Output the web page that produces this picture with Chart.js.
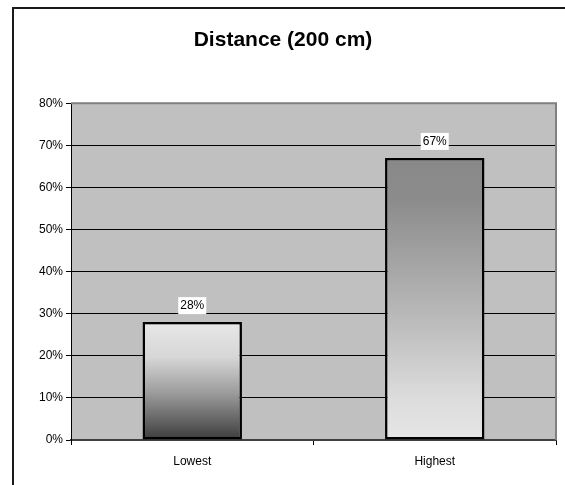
<!DOCTYPE html>
<html>
<head>
<meta charset="utf-8">
<script src="https://cdn.jsdelivr.net/npm/chart.js@4/dist/chart.umd.min.js"></script>
<style>
  html, body { margin: 0; padding: 0; background: #ffffff; }
  #wrap { position: relative; width: 565px; height: 485px; }
</style>
</head>
<body>
<div id="wrap"><canvas id="c" width="565" height="485"></canvas></div>
<script>
// ---- data ----
const titleText = 'Distance (200 cm)';
const categories = ['Lowest', 'Highest'];
const values = [28, 67];
const yMin = 0;
const yMax = 80;
const yStep = 10;

// ---- styles ----
const FONT = '"Liberation Sans", Arial, sans-serif';
const plotFill = '#c0c0c0';
const plotBorder = '#808080';
const gradientStops = [
  [[0, '#e8e8e8'], [0.3, '#d6d6d6'], [0.6, '#9c9c9c'], [1, '#3c3c3c']],
  [[0, '#888888'], [0.15, '#8c8c8c'], [0.5, '#b2b2b2'], [0.85, '#dcdcdc'], [1, '#e6e6e6']]
];

Chart.defaults.font.family = FONT;
Chart.defaults.color = '#000';

const framePlugin = {
  id: 'frame',
  beforeDraw(chart) {
    const c = chart.ctx;
    const a = chart.chartArea;
    c.save();
    c.fillStyle = '#ffffff';
    c.fillRect(0, 0, chart.width, chart.height);
    // outer chart frame
    c.strokeStyle = '#1a1a1a';
    c.lineWidth = 2;
    c.beginPath();
    c.moveTo(13, chart.height);
    c.lineTo(13, 8);
    c.lineTo(chart.width, 8);
    c.stroke();
    // plot area
    c.fillStyle = plotFill;
    c.fillRect(a.left, a.top, a.right - a.left, a.bottom - a.top);
    c.restore();
  },
  afterDraw(chart) {
    const c = chart.ctx;
    const a = chart.chartArea;
    c.save();
    c.strokeStyle = plotBorder;
    c.lineWidth = 2;
    c.beginPath();
    c.moveTo(a.left, a.top);
    c.lineTo(a.right, a.top);
    c.lineTo(a.right, a.bottom);
    c.stroke();
    c.restore();
  }
};

const labelPlugin = {
  id: 'valueLabels',
  afterDatasetsDraw(chart) {
    const c = chart.ctx;
    const meta = chart.getDatasetMeta(0);
    c.save();
    c.font = '12px ' + FONT;
    c.textAlign = 'center';
    c.textBaseline = 'middle';
    meta.data.forEach((bar, i) => {
      const text = chart.data.datasets[0].data[i] + '%';
      const w = c.measureText(text).width;
      const cy = bar.y - 17;
      c.fillStyle = '#ffffff';
      c.fillRect(bar.x - w / 2 - 2, cy - 8, w + 4, 17);
      c.fillStyle = '#000';
      c.fillText(text, bar.x, cy + 1);
    });
    c.restore();
  }
};

function barGradient(ctx) {
  const chart = ctx.chart;
  if (!chart.chartArea || ctx.type !== 'data') return '#cccccc';
  const y = chart.scales.y;
  const top = y.getPixelForValue(ctx.raw);
  const bottom = y.getPixelForValue(0);
  const g = chart.ctx.createLinearGradient(0, top, 0, bottom);
  gradientStops[ctx.dataIndex % gradientStops.length].forEach(s => g.addColorStop(s[0], s[1]));
  return g;
}

new Chart(document.getElementById('c'), {
  type: 'bar',
  data: {
    labels: categories,
    datasets: [{
      data: values,
      backgroundColor: barGradient,
      borderColor: '#000',
      borderWidth: 2.5,
      borderSkipped: false,
      barPercentage: 0.41,
      categoryPercentage: 1.0
    }]
  },
  options: {
    responsive: false,
    animation: false,
    events: [],
    layout: { padding: { left: 10, right: 9, top: 0, bottom: 0 } },
    plugins: {
      legend: { display: false },
      tooltip: { enabled: false },
      title: {
        display: true,
        text: titleText,
        color: '#000',
        font: { size: 21, weight: 'bold', family: FONT },
        padding: { top: 28, bottom: 50 }
      }
    },
    scales: {
      x: {
        offset: true,
        grid: {
          offset: true,
          drawOnChartArea: false,
          drawTicks: true,
          tickLength: 5,
          tickColor: '#000',
          lineWidth: 1
        },
        border: { display: true, color: '#404040', width: 2 },
        ticks: { color: '#000', font: { size: 12, family: FONT }, padding: 9 },
        afterFit(scale) { scale.height = 45; }
      },
      y: {
        min: yMin,
        max: yMax,
        grid: {
          color: (ctx) => (ctx.tick && ctx.tick.value === yMax) ? 'rgba(0,0,0,0)' : '#000',
          tickColor: '#000',
          tickLength: 5,
          lineWidth: 1
        },
        border: { display: true, color: '#000', width: 1 },
        ticks: {
          stepSize: yStep,
          color: '#000',
          font: { size: 12, family: FONT },
          padding: 3,
          callback: (v) => v + '%'
        },
        afterFit(scale) { scale.width = 61; }
      }
    }
  },
  plugins: [framePlugin, labelPlugin]
});
</script>
</body>
</html>
